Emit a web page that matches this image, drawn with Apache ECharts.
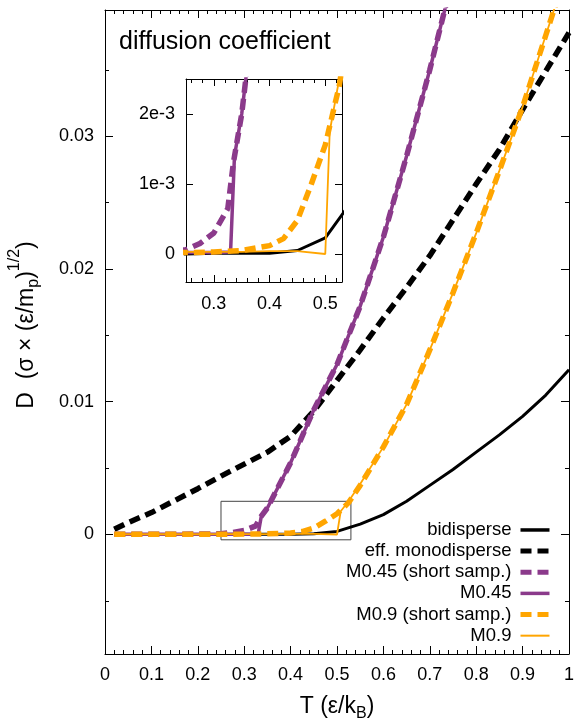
<!DOCTYPE html>
<html><head><meta charset="utf-8">
<script src="https://cdn.jsdelivr.net/npm/echarts@6/dist/echarts.min.js"></script>
<style>html,body{margin:0;padding:0;background:#fff}#c{width:577px;height:719px}</style>
</head><body><div id="c"></div>
<script>
// ---------- data ----------
const T_bidisperse = [0.02,0.05,0.1,0.15,0.2,0.25,0.3,0.35,0.4,0.45,0.5,0.55,0.6,0.65,0.7,0.75,0.8,0.85,0.9,0.95,1.0];
const D_bidisperse = [0,0,0,0,0,0,0.00001,0.00001,0.00001,0.00005,0.00023,0.00078,0.0015,0.0025,0.0037,0.0049,0.0062,0.0075,0.0089,0.0105,0.0124];

const T_mono = [0.02,0.05,0.1,0.15,0.2,0.25,0.3,0.35,0.4,0.45,0.5,0.55,0.6,0.65,0.7,0.75,0.8,0.85,0.9,0.95,1.0];
const D_mono = [0.0004,0.0009,0.00165,0.00255,0.00345,0.0044,0.0053,0.0062,0.0074,0.0093,0.0116,0.0139,0.0163,0.0186,0.0210,0.0237,0.0264,0.0290,0.0320,0.0349,0.0378];

const T_m045short = [0.02,0.05,0.1,0.15,0.2,0.25,0.275,0.3,0.325,0.335,0.35,0.4,0.45,0.5,0.55,0.6,0.65,0.7,0.75];
const D_m045short = [0.00001,0.00001,0.00001,0.00002,0.00003,0.00006,0.00015,0.0003,0.00065,0.0013,0.0020,0.0054,0.0094,0.0128,0.0172,0.0224,0.0285,0.0350,0.0420];

const T_m045 = [0.02,0.05,0.1,0.15,0.2,0.25,0.3,0.33,0.337,0.35,0.4,0.45,0.5,0.55,0.6,0.65,0.7,0.75];
const D_m045 = [0.00001,0.00001,0.00001,0.00001,0.00002,0.00002,0.00002,0.00003,0.0014,0.0020,0.0054,0.0094,0.0128,0.0172,0.0224,0.0285,0.0350,0.0420];

const T_m09short = [0.02,0.05,0.1,0.15,0.2,0.25,0.3,0.35,0.4,0.425,0.45,0.475,0.5,0.525,0.55,0.6,0.65,0.7,0.75,0.8,0.85,0.9,0.95,1.0];
const D_m09short = [0.00001,0.00001,0.00001,0.00001,0.00002,0.00002,0.00003,0.00005,0.00012,0.00022,0.00048,0.001,0.00156,0.0024,0.0037,0.0066,0.0098,0.0139,0.0182,0.0227,0.0274,0.0322,0.0376,0.043];

const T_m09 = [0.02,0.05,0.1,0.15,0.2,0.25,0.3,0.35,0.4,0.45,0.5,0.508,0.525,0.55,0.6,0.65,0.7,0.75,0.8,0.85,0.9,0.95,1.0];
const D_m09 = [0.00002,0.00002,0.00002,0.00002,0.00002,0.00003,0.00003,0.00003,0.00004,0.00004,0.0,0.00175,0.0025,0.0038,0.0066,0.0098,0.0139,0.0182,0.0227,0.0274,0.0322,0.0376,0.043];

const seriesNames = ['bidisperse','eff. monodisperse','M0.45 (short samp.)','M0.45','M0.9 (short samp.)','M0.9'];

// axes ranges and ticks
const mainX = [0, 1];
const mainY = [-0.009, 0.0395];
const yTicksMain = [0, 0.01, 0.02, 0.03];
const yMinorMain = [-0.005, 0.005, 0.015, 0.025, 0.035];
const insetX = [0.25, 0.53];
const insetY = [-0.0004, 0.0025];
const xTicksInset = [0.3, 0.4, 0.5];
const xMinorInset = [0.26,0.28,0.32,0.34,0.36,0.38,0.42,0.44,0.46,0.48,0.52];
const yTicksInset = [0, 0.001, 0.002];

// ---------- styling ----------
const FONT = "'Liberation Sans', Arial, sans-serif";
const PURPLE = '#8b3a8b', ORANGE = '#ffa500';
const DASH = [11, 6];
const styles = [
  {color:'#000', width:3},
  {color:'#000', width:5.5, type:DASH},
  {color:PURPLE, width:5.5, type:DASH},
  {color:PURPLE, width:3.5},
  {color:ORANGE, width:5.5, type:DASH},
  {color:ORANGE, width:1.8}
];
const dataSets = [
  [T_bidisperse, D_bidisperse],
  [T_mono, D_mono],
  [T_m045short, D_m045short],
  [T_m045, D_m045],
  [T_m09short, D_m09short],
  [T_m09, D_m09]
];

const tickStyle = {color:'#000', width:1};
const lineOn = {show:true, onZero:false, lineStyle:{color:'#000', width:1}};
const lineOff = {show:false, onZero:false};
const lab = {color:'#000', fontSize:18, fontFamily:FONT};

function mkSeries(i, xi, yi, extra) {
  const [T, D] = dataSets[i];
  return Object.assign({
    type:'line', name: seriesNames[i], xAxisIndex: xi, yAxisIndex: yi,
    data: T.map((t, k) => [t, D[k]]),
    symbol:'none', showSymbol:false, clip:true, silent:true,
    lineStyle: styles[i], itemStyle:{color: styles[i].color},
    z: 2 + i
  }, extra || {});
}

const series = [];
for (let i = 0; i < 6; i++) {
  const extra = i === 0 ? {
    markArea: {
      silent:true, label:{show:false},
      itemStyle:{color:'rgba(0,0,0,0)', borderColor:'#444', borderWidth:1},
      data:[[{coord:[insetX[0], insetY[0]]},{coord:[insetX[1], insetY[1]]}]]
    }
  } : null;
  series.push(mkSeries(i, 0, 0, extra));
}
for (let i = 0; i < 6; i++) series.push(mkSeries(i, 2, 4));

const fmtMainX = v => String(Math.round(v*10)/10);
const fmtMainY = v => v === 0 ? '0' : String(+v.toFixed(3));
const fmtInsetX = v => String(+v.toFixed(2));
const fmtInsetY = v => v === 0 ? '0' : Math.round(v*1000) + 'e-3';

const option = {
  animation:false,
  backgroundColor:'#fff',
  grid:[
    {left:105, top:10, width:466, height:644},
    {left:186, top:79, width:156, height:203, show:true, backgroundColor:'#fff', borderWidth:0}
  ],
  xAxis:[
    {type:'value', gridIndex:0, position:'bottom', min:mainX[0], max:mainX[1], interval:0.1,
     axisLine:lineOn, axisTick:{inside:true, length:8, lineStyle:tickStyle},
     minorTick:{show:true, splitNumber:5, length:4, lineStyle:tickStyle},
     axisLabel:Object.assign({}, lab, {margin:12, formatter:fmtMainX}),
     splitLine:{show:false}, minorSplitLine:{show:false}},
    {type:'value', gridIndex:0, position:'top', min:mainX[0], max:mainX[1], interval:0.1,
     axisLine:lineOn, axisTick:{inside:true, length:8, lineStyle:tickStyle},
     minorTick:{show:true, splitNumber:5, length:4, lineStyle:tickStyle},
     axisLabel:{show:false}, splitLine:{show:false}, minorSplitLine:{show:false}},
    {type:'value', gridIndex:1, position:'bottom', min:insetX[0], max:insetX[1],
     axisLine:lineOn, axisTick:{inside:true, length:7, customValues:xTicksInset, lineStyle:tickStyle},
     axisLabel:Object.assign({}, lab, {margin:13, customValues:xTicksInset, formatter:fmtInsetX}),
     splitLine:{show:false}},
    {type:'value', gridIndex:1, position:'bottom', min:insetX[0], max:insetX[1],
     axisLine:lineOff, axisTick:{inside:true, length:4, customValues:xMinorInset, lineStyle:tickStyle},
     axisLabel:{show:false}, splitLine:{show:false}},
    {type:'value', gridIndex:1, position:'top', min:insetX[0], max:insetX[1],
     axisLine:lineOn, axisTick:{inside:true, length:7, customValues:xTicksInset, lineStyle:tickStyle},
     axisLabel:{show:false}, splitLine:{show:false}},
    {type:'value', gridIndex:1, position:'top', min:insetX[0], max:insetX[1],
     axisLine:lineOff, axisTick:{inside:true, length:4, customValues:xMinorInset, lineStyle:tickStyle},
     axisLabel:{show:false}, splitLine:{show:false}}
  ],
  yAxis:[
    {type:'value', gridIndex:0, position:'left', min:mainY[0], max:mainY[1],
     axisLine:lineOn, axisTick:{inside:true, length:8, customValues:yTicksMain, lineStyle:tickStyle},
     axisLabel:Object.assign({}, lab, {margin:11, customValues:yTicksMain, formatter:fmtMainY}),
     splitLine:{show:false}},
    {type:'value', gridIndex:0, position:'left', min:mainY[0], max:mainY[1],
     axisLine:lineOff, axisTick:{inside:true, length:4, customValues:yMinorMain, lineStyle:tickStyle},
     axisLabel:{show:false}, splitLine:{show:false}},
    {type:'value', gridIndex:0, position:'right', min:mainY[0], max:mainY[1],
     axisLine:lineOn, axisTick:{inside:true, length:8, customValues:yTicksMain, lineStyle:tickStyle},
     axisLabel:{show:false}, splitLine:{show:false}},
    {type:'value', gridIndex:0, position:'right', min:mainY[0], max:mainY[1],
     axisLine:lineOff, axisTick:{inside:true, length:4, customValues:yMinorMain, lineStyle:tickStyle},
     axisLabel:{show:false}, splitLine:{show:false}},
    {type:'value', gridIndex:1, position:'left', min:insetY[0], max:insetY[1],
     axisLine:lineOn, axisTick:{inside:true, length:7, customValues:yTicksInset, lineStyle:tickStyle},
     axisLabel:Object.assign({}, lab, {margin:11, customValues:yTicksInset, formatter:fmtInsetY}),
     splitLine:{show:false}},
    {type:'value', gridIndex:1, position:'right', min:insetY[0], max:insetY[1],
     axisLine:lineOn, axisTick:{inside:true, length:7, customValues:yTicksInset, lineStyle:tickStyle},
     axisLabel:{show:false}, splitLine:{show:false}}
  ],
  legend:{
    orient:'vertical', align:'right', right:25, top:519.4, padding:0,
    itemWidth:29, itemHeight:14, itemGap:0, selectedMode:false,
    itemStyle:{opacity:0},
    textStyle:{fontSize:18.5, fontFamily:FONT, color:'#000', lineHeight:21.14, padding:[0,4,0,0]},
    data:[
      {name:seriesNames[0], lineStyle:{width:3.5}},
      {name:seriesNames[1], lineStyle:{width:5}},
      {name:seriesNames[2], lineStyle:{width:5}},
      {name:seriesNames[3], lineStyle:{width:3.5}},
      {name:seriesNames[4], lineStyle:{width:5}},
      {name:seriesNames[5], lineStyle:{width:2}}
    ]
  },
  graphic:[
    {type:'text', x:119, y:42, silent:true,
     style:{text:'diffusion coefficient', fill:'#000', fontSize:25, fontFamily:FONT, align:'left', verticalAlign:'middle'}},
    {type:'text', x:337, y:707, silent:true,
     style:{text:'T (ε/k{s|B})', fill:'#000', fontSize:23, fontFamily:FONT, align:'center', verticalAlign:'middle',
            rich:{s:{fontSize:16, fontFamily:FONT, fill:'#000', padding:[14,0,0,0]}}}},
    {type:'text', x:27, y:325, rotation:Math.PI/2, silent:true,
     style:{text:'D  (σ × (ε/m{s|p}){p|1/2})', fill:'#000', fontSize:23, fontFamily:FONT, align:'center', verticalAlign:'middle',
            rich:{s:{fontSize:16, fontFamily:FONT, fill:'#000', padding:[14,0,0,0]},
                  p:{fontSize:16, fontFamily:FONT, fill:'#000', padding:[0,0,25,0]}}}}
  ],
  series: series
};

const chart = echarts.init(document.getElementById('c'), null, {renderer:'canvas'});
chart.setOption(option);
</script>
</body></html>
